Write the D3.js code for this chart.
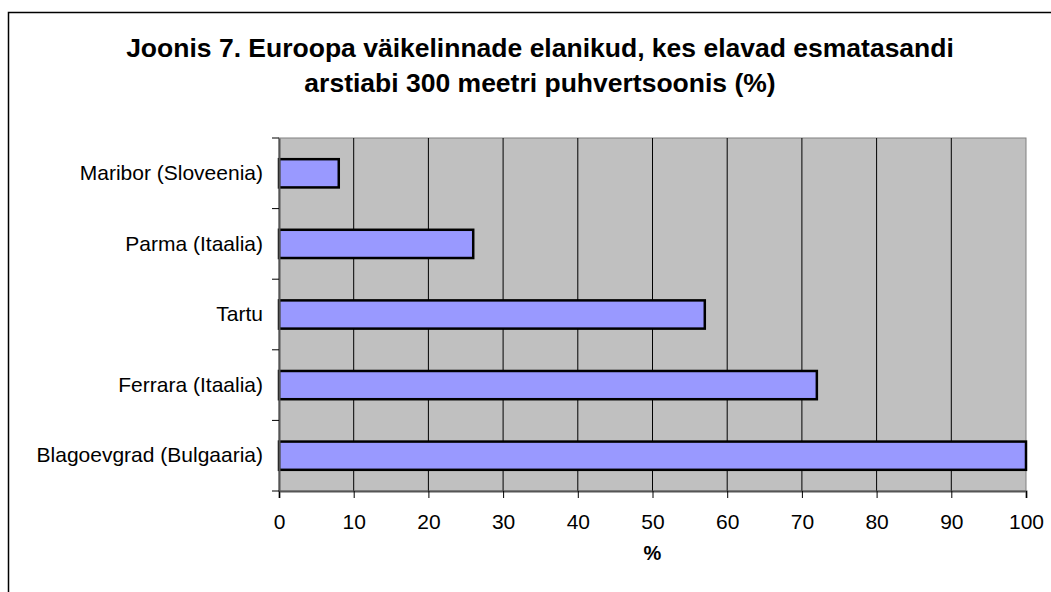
<!DOCTYPE html>
<html><head><meta charset="utf-8">
<script src="https://cdn.jsdelivr.net/npm/d3@7"></script>
<style>body{margin:0;background:#fff;} svg{display:block;}</style>
</head><body>
<script>
const categories = ["Maribor (Sloveenia)", "Parma (Itaalia)", "Tartu", "Ferrara (Itaalia)", "Blagoevgrad (Bulgaaria)"];
const values = [8, 26, 57, 72, 100];
const xTicks = [0,10,20,30,40,50,60,70,80,90,100];
const titleLines = ["Joonis 7. Euroopa väikelinnade elanikud, kes elavad esmatasandi", "arstiabi 300 meetri puhvertsoonis (%)"];
const xLabel = "%";

const W = 1051, H = 592;
const svg = d3.select("body").append("svg").attr("width", W).attr("height", H);
const font = "'Liberation Sans', Arial, sans-serif";

// outer chart border
svg.append("rect").attr("x", 8.5).attr("y", 12.5).attr("width", 1100).attr("height", 700)
  .attr("fill", "none").attr("stroke", "#000").attr("stroke-width", 1.5);

const m = {left: 279, right: 1026, top: 138, bottom: 491};
const x = d3.scaleLinear().domain([0, 100]).range([m.left, m.right]);
const y = d3.scaleBand().domain(categories).range([m.top, m.bottom]).paddingInner(0.6).paddingOuter(0.3);
const yb = d3.scaleBand().domain(categories).range([m.top, m.bottom]);

svg.append("rect").attr("x", m.left).attr("y", m.top).attr("width", m.right - m.left).attr("height", m.bottom - m.top)
  .attr("fill", "#C0C0C0").attr("stroke", "#808080").attr("stroke-width", 1);

// gridlines
svg.append("g").selectAll("line").data(xTicks.slice(1, -1)).join("line")
  .attr("x1", d => x(d)).attr("x2", d => x(d)).attr("y1", m.top).attr("y2", m.bottom)
  .attr("stroke", "#000").attr("stroke-width", 1);

// bars
svg.append("g").selectAll("rect").data(categories).join("rect")
  .attr("x", x(0)).attr("y", d => y(d)).attr("height", y.bandwidth())
  .attr("width", (d, i) => x(values[i]) - x(0))
  .attr("fill", "#9999FF").attr("stroke", "#000").attr("stroke-width", 2.5);

// x axis
const xAxis = svg.append("g").attr("transform", `translate(0,${m.bottom})`)
  .call(d3.axisBottom(x).tickValues(xTicks).tickSize(7).tickPadding(16));
xAxis.select(".domain").attr("stroke", "#555").attr("stroke-width", 2);
xAxis.selectAll(".tick line").attr("stroke", "#000");
xAxis.selectAll("text").attr("font-family", font).attr("font-size", 21).attr("fill", "#000");

// y axis
const yAxis = svg.append("g").attr("transform", `translate(${m.left},0)`)
  .call(d3.axisLeft(yb).tickSize(0).tickPadding(16));
yAxis.select(".domain").attr("stroke", "#555").attr("stroke-width", 2);
yAxis.selectAll("text").attr("font-family", font).attr("font-size", 21).attr("fill", "#000");
// y tick marks at band boundaries
const bounds = categories.map(c => yb(c)).concat([m.bottom]);
svg.append("g").selectAll("line").data(bounds).join("line")
  .attr("x1", m.left - 7).attr("x2", m.left).attr("y1", d => d).attr("y2", d => d)
  .attr("stroke", "#000").attr("stroke-width", 1);

// title
svg.append("g").selectAll("text").data(titleLines).join("text")
  .attr("x", 540).attr("y", (d, i) => 57 + i * 35).attr("text-anchor", "middle")
  .attr("font-family", font).attr("font-weight", "bold").attr("font-size", 26.5).text(d => d);

svg.append("text").attr("x", x(50)).attr("y", 560).attr("text-anchor", "middle")
  .attr("font-family", font).attr("font-weight", "bold").attr("font-size", 20).text(xLabel);
</script>
</body></html>
